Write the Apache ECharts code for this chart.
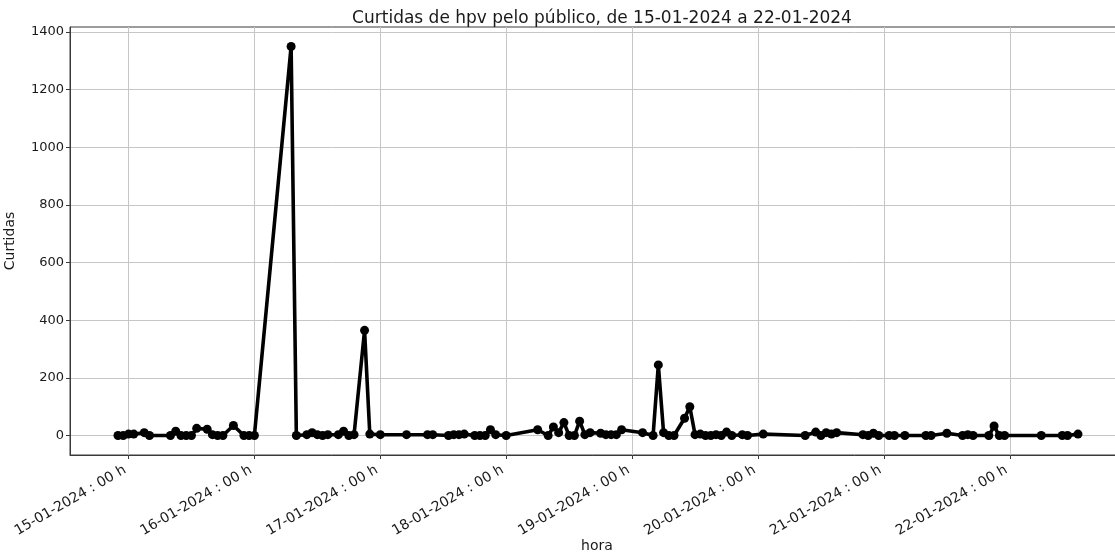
<!DOCTYPE html>
<html>
<head>
<meta charset="utf-8">
<title>Curtidas de hpv</title>
<script src="https://cdn.jsdelivr.net/npm/echarts@6/dist/echarts.min.js"></script>
<style>
  html, body { margin: 0; padding: 0; background: #fff; }
  #chart { width: 1115px; height: 556px; }
</style>
</head>
<body>
<div id="chart"></div>
<script>
// Hourly likes ("curtidas") on hpv posts, 14-01-2024 22h to 22-01-2024 13h
const horas = [
  '2024-01-14 22:00', '2024-01-14 23:00', '2024-01-15 00:00', '2024-01-15 01:00',
  '2024-01-15 03:00', '2024-01-15 04:00', '2024-01-15 08:00', '2024-01-15 09:00',
  '2024-01-15 10:00', '2024-01-15 11:00', '2024-01-15 12:00', '2024-01-15 13:00',
  '2024-01-15 15:00', '2024-01-15 16:00', '2024-01-15 17:00', '2024-01-15 18:00',
  '2024-01-15 20:00', '2024-01-15 22:00', '2024-01-15 23:00', '2024-01-16 00:00',
  '2024-01-16 07:00', '2024-01-16 08:00', '2024-01-16 10:00', '2024-01-16 11:00',
  '2024-01-16 12:00', '2024-01-16 13:00', '2024-01-16 14:00', '2024-01-16 16:00',
  '2024-01-16 17:00', '2024-01-16 18:00', '2024-01-16 19:00', '2024-01-16 21:00',
  '2024-01-16 22:00', '2024-01-17 00:00', '2024-01-17 05:00', '2024-01-17 09:00',
  '2024-01-17 10:00', '2024-01-17 13:00', '2024-01-17 14:00', '2024-01-17 15:00',
  '2024-01-17 16:00', '2024-01-17 18:00', '2024-01-17 19:00', '2024-01-17 20:00',
  '2024-01-17 21:00', '2024-01-17 22:00', '2024-01-18 00:00', '2024-01-18 06:00',
  '2024-01-18 08:00', '2024-01-18 09:00', '2024-01-18 10:00', '2024-01-18 11:00',
  '2024-01-18 12:00', '2024-01-18 13:00', '2024-01-18 14:00', '2024-01-18 15:00',
  '2024-01-18 16:00', '2024-01-18 18:00', '2024-01-18 19:00', '2024-01-18 20:00',
  '2024-01-18 21:00', '2024-01-18 22:00', '2024-01-19 02:00', '2024-01-19 04:00',
  '2024-01-19 05:00', '2024-01-19 06:00', '2024-01-19 07:00', '2024-01-19 08:00',
  '2024-01-19 10:00', '2024-01-19 11:00', '2024-01-19 12:00', '2024-01-19 13:00',
  '2024-01-19 14:00', '2024-01-19 15:00', '2024-01-19 16:00', '2024-01-19 17:00',
  '2024-01-19 18:00', '2024-01-19 19:00', '2024-01-19 21:00', '2024-01-19 22:00',
  '2024-01-20 01:00', '2024-01-20 09:00', '2024-01-20 11:00', '2024-01-20 12:00',
  '2024-01-20 13:00', '2024-01-20 14:00', '2024-01-20 15:00', '2024-01-20 20:00',
  '2024-01-20 21:00', '2024-01-20 22:00', '2024-01-20 23:00', '2024-01-21 01:00',
  '2024-01-21 02:00', '2024-01-21 04:00', '2024-01-21 08:00', '2024-01-21 09:00',
  '2024-01-21 12:00', '2024-01-21 15:00', '2024-01-21 16:00', '2024-01-21 17:00',
  '2024-01-21 20:00', '2024-01-21 21:00', '2024-01-21 22:00', '2024-01-21 23:00',
  '2024-01-22 06:00', '2024-01-22 10:00', '2024-01-22 11:00', '2024-01-22 13:00'
];

const curtidas = [
  0, 0, 5, 5,
  10, 0, 0, 15,
  0, 0, 0, 25,
  22, 3, 0, 0,
  35, 0, 0, 0,
  1350, 0, 3, 10,
  3, 0, 3, 3,
  15, 0, 3, 365,
  5, 3, 3, 3,
  3, 0, 3, 3,
  5, 0, 0, 0,
  20, 3, 0, 20,
  0, 30, 10, 45,
  0, 0, 50, 3,
  10, 8, 3, 3,
  3, 20, 10, 0,
  245, 10, 0, 0,
  60, 100, 3, 5,
  0, 0, 3, 0,
  12, 0, 3, 0,
  5, 0, 12, 0,
  10, 5, 10, 3,
  0, 8, 0, 0,
  0, 0, 0, 0,
  8, 0, 3, 0,
  0, 33, 0, 0,
  0, 0, 0, 5
];

// Tick positions: midnight of each day, and the y-axis values
const diasTicks = ['2024-01-15', '2024-01-16', '2024-01-17', '2024-01-18',
                   '2024-01-19', '2024-01-20', '2024-01-21', '2024-01-22'];
const yTicks = [0, 200, 400, 600, 800, 1000, 1200, 1400];

const titulo = 'Curtidas de hpv pelo público, de 15-01-2024 a 22-01-2024';
const nomeX = 'hora';
const nomeY = 'Curtidas';

// Parse "YYYY-MM-DD HH:MM" as UTC milliseconds
function toMs(s) {
  const [d, t] = s.split(' ');
  const [Y, M, D] = d.split('-').map(Number);
  const [h, m] = (t || '00:00').split(':').map(Number);
  return Date.UTC(Y, M - 1, D, h, m);
}
function pad2(n) { return String(n).padStart(2, '0'); }
function fmtDia(ms) {
  const dt = new Date(ms);
  return pad2(dt.getUTCDate()) + '-' + pad2(dt.getUTCMonth() + 1) + '-' +
         dt.getUTCFullYear() + ' : ' + pad2(dt.getUTCHours()) + ' h';
}

const pontos = horas.map((h, i) => [toMs(h), curtidas[i]]);
const xTickMs = diasTicks.map(toMs);

// 5% padding around the data on both axes
const xs = pontos.map(p => p[0]);
const xMin0 = Math.min(...xs), xMax0 = Math.max(...xs);
const xPad = (xMax0 - xMin0) * 0.05;
const yMin0 = Math.min(...curtidas), yMax0 = Math.max(...curtidas);
const yPad = (yMax0 - yMin0) * 0.05;

const FONT = 'DejaVu Sans';
const gridColor = '#c6c6c6';
const spineColor = '#3a3a3a';

const chart = echarts.init(document.getElementById('chart'), null, { renderer: 'canvas' });
chart.setOption({
  animation: false,
  backgroundColor: '#ffffff',
  title: {
    text: titulo,
    left: 597,
    top: 5,
    textAlign: 'center',
    textStyle: { fontFamily: FONT, fontSize: 17, fontWeight: 'normal', color: '#1a1a1a' }
  },
  // x-axis title placed under the rotated date labels
  graphic: [{
    type: 'text',
    x: 597,
    y: 546,
    style: {
      text: nomeX,
      fontFamily: FONT, fontSize: 14, fill: '#1a1a1a',
      align: 'center', verticalAlign: 'middle'
    },
    silent: true
  }],
  grid: {
    left: 70, top: 27, right: -11, bottom: 101,
    outerBoundsMode: 'none',
    containLabel: false,
    show: true, borderColor: spineColor, borderWidth: 1, backgroundColor: 'transparent'
  },
  xAxis: {
    type: 'value',
    min: xMin0 - xPad,
    max: xMax0 + xPad,
    axisLine: { show: true, onZero: false, lineStyle: { color: spineColor, width: 1 } },
    axisTick: { show: true, inside: false, length: 4, customValues: xTickMs,
                lineStyle: { color: spineColor, width: 1 } },
    axisLabel: {
      customValues: xTickMs,
      rotate: 30,
      margin: 12,
      padding: [0, 4, 0, 0],
      fontFamily: FONT, fontSize: 14, color: '#1a1a1a',
      formatter: v => fmtDia(v)
    },
    splitLine: { show: true, lineStyle: { color: gridColor, width: 1 } }
  },
  yAxis: {
    type: 'value',
    min: yMin0 - yPad,
    max: yMax0 + yPad,
    name: nomeY,
    nameLocation: 'middle',
    nameGap: 53,
    nameRotate: 90,
    nameTextStyle: { fontFamily: FONT, fontSize: 14, color: '#1a1a1a' },
    axisLine: { show: true, lineStyle: { color: spineColor, width: 1 } },
    axisTick: { show: true, inside: false, length: 4, customValues: yTicks,
                lineStyle: { color: spineColor, width: 1 } },
    axisLabel: {
      customValues: yTicks,
      margin: 6,
      fontFamily: FONT, fontSize: 13, color: '#1a1a1a',
      formatter: v => String(Math.round(v))
    },
    splitLine: { show: true, lineStyle: { color: gridColor, width: 1 } }
  },
  series: [{
    type: 'line',
    data: pontos,
    symbol: 'circle',
    symbolSize: 9,
    showAllSymbol: true,
    lineStyle: { color: '#000000', width: 3.6 },
    itemStyle: { color: '#000000', borderWidth: 0 },
    emphasis: { disabled: true },
    z: 3
  }]
});
</script>
</body>
</html>
